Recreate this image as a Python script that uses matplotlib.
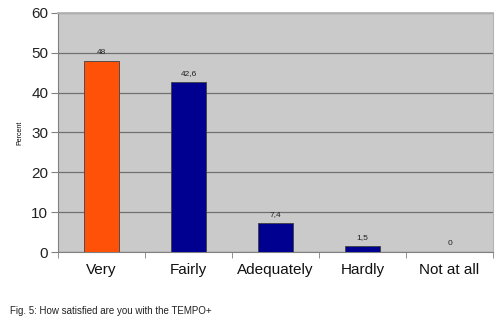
import matplotlib
matplotlib.use("Agg")
import matplotlib.pyplot as plt

categories = ["Very", "Fairly", "Adequately", "Hardly", "Not at all"]
values = [48, 42.6, 7.4, 1.5, 0]
value_labels = ["48", "42,6", "7,4", "1,5", "0"]
colors = ["#ff5208", "#000090", "#000090", "#000090", "#000090"]
yticks = [0, 10, 20, 30, 40, 50, 60]

plt.rcParams['font.family'] = ['Liberation Sans', 'DejaVu Sans']
fig = plt.figure(figsize=(5, 3.3), dpi=100)
ax = fig.add_axes([0.116, 0.236, 0.87, 0.725])
ax.set_facecolor("#cacaca")
ax.set_axisbelow(True)
x = list(range(len(categories)))
ax.bar(x, values, width=0.4, color=colors, edgecolor="#404040", linewidth=0.6, zorder=3)
for xi, v, lab in zip(x, values, value_labels):
    ax.text(xi, v + 1.2, lab, ha="center", va="bottom", fontsize=6, color="#222222", zorder=4)
ax.set_xlim(-0.5, len(categories) - 0.5)
ax.set_ylim(0, 60)
ax.set_yticks(yticks)
ax.set_yticklabels([str(t) for t in yticks], fontsize=11, color="#222222")
ax.yaxis.grid(True, color="#707070", linewidth=0.9)
ax.set_xticks(x)
ax.set_xticklabels(categories, fontsize=11, color="#111111")
ax.set_xticks([i + 0.5 for i in range(-1, len(categories))], minor=True)
ax.tick_params(axis="x", which="major", length=0, pad=8)
ax.tick_params(axis="x", which="minor", length=4, color="#808080")
ax.tick_params(axis="y", length=5, color="#808080", pad=2)
ax.spines["top"].set_color("#b4b4b4")
ax.spines["right"].set_color("#b4b4b4")
ax.spines["top"].set_linewidth(1.3)
ax.spines["top"].set_zorder(6)
ax.spines["left"].set_color("#808080")
ax.spines["bottom"].set_color("#808080")
ax.set_ylabel("Percent", fontsize=5, labelpad=6)
fig.text(0.02, 0.057, "Fig. 5: How satisfied are you with the TEMPO+", fontsize=7, color="#222222", va="center")
fig.savefig("out.png", dpi=100)
